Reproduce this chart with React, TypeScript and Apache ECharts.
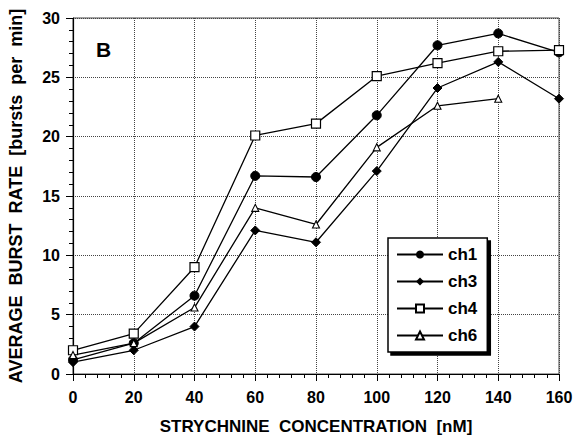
import React, { useEffect, useRef } from "react";
import * as echarts from "echarts";

const concentrations = [0, 20, 40, 60, 80, 100, 120, 140, 160];
const ch1 = [1.2, 2.6, 6.6, 16.7, 16.6, 21.8, 27.7, 28.7, 27.1];
const ch3 = [1.0, 2.0, 4.0, 12.1, 11.1, 17.1, 24.1, 26.3, 23.2];
const ch4 = [2.0, 3.4, 9.0, 20.1, 21.1, 25.1, 26.2, 27.2, 27.3];
const ch6 = [1.6, 2.6, 5.6, 14.0, 12.6, 19.1, 22.6, 23.2];
const yTicks = [0, 5, 10, 15, 20, 25, 30];

const FONT = "Liberation Sans";

export default function App() {
  const ref = useRef<HTMLDivElement>(null);
  useEffect(() => {
    if (!ref.current) return;
    const chart = echarts.init(ref.current, null, { renderer: "svg" });
    const pairs = (vals: number[]) => vals.map((v, i) => [concentrations[i], v]);
    const lineStyle = { color: "#000", width: 1.3 };
    chart.setOption({
      animation: false,
      backgroundColor: "#fff",
      grid: {
        left: 73,
        right: 16,
        top: 18,
        bottom: 62,
        outerBoundsMode: "none",
        containLabel: false,
        show: true,
        borderColor: "#444",
        borderWidth: 1,
        backgroundColor: "transparent",
      },
      graphic: [
        {
          type: "text",
          left: 96,
          top: 39,
          style: { text: "B", font: `bold 21px ${FONT}`, fill: "#000" },
        },
      ],
      legend: {
        orient: "vertical",
        left: 388,
        top: 238,
        itemWidth: 46,
        itemHeight: 10,
        itemGap: 10,
        padding: [8, 10, 8, 8],
        backgroundColor: "#fff",
        borderColor: "#000",
        borderWidth: 1.5,
        shadowColor: "#000",
        shadowBlur: 0,
        shadowOffsetX: 3,
        shadowOffsetY: 3,
        textStyle: { fontFamily: FONT, fontWeight: "bold", fontSize: 17, color: "#000" },
        data: ["ch1", "ch3", "ch4", "ch6"],
      },
      xAxis: {
        type: "value",
        min: 0,
        max: 160,
        interval: 20,
        name: "STRYCHNINE  CONCENTRATION  [nM]",
        nameLocation: "middle",
        nameGap: 44,
        nameTextStyle: { fontFamily: FONT, fontWeight: "bold", fontSize: 17, color: "#000" },
        axisLine: { onZero: false, lineStyle: { color: "#000", width: 1.2 } },
        axisTick: { show: true, length: 7, lineStyle: { color: "#000" } },
        minorTick: { show: true, splitNumber: 5, length: 4, lineStyle: { color: "#000" } },
        axisLabel: { fontFamily: FONT, fontWeight: "bold", fontSize: 16, color: "#000", margin: 15 },
        splitLine: { show: true, lineStyle: { type: "dotted", color: "#444", width: 1 } },
      },
      yAxis: {
        type: "value",
        min: 0,
        max: 30,
        interval: 5,
        name: "AVERAGE  BURST  RATE  [bursts  per  min]",
        nameLocation: "middle",
        nameGap: 48,
        nameTextStyle: { fontFamily: FONT, fontWeight: "bold", fontSize: 18, color: "#000" },
        axisLine: { lineStyle: { color: "#000", width: 1.2 } },
        axisTick: { show: true, length: 7, lineStyle: { color: "#000" } },
        minorTick: { show: true, splitNumber: 5, length: 4, lineStyle: { color: "#000" } },
        axisLabel: {
          fontFamily: FONT,
          fontWeight: "bold",
          fontSize: 16,
          color: "#000",
          margin: 13,
          formatter: (v: number) => (yTicks.includes(v) ? String(v) : ""),
        },
        splitLine: { show: true, lineStyle: { type: "dotted", color: "#444", width: 1 } },
      },
      series: [
        {
          name: "ch1",
          type: "line",
          data: pairs(ch1),
          symbol: "circle",
          symbolSize: 9,
          itemStyle: { color: "#000", borderColor: "#000" },
          lineStyle,
          z: 4,
        },
        {
          name: "ch3",
          type: "line",
          data: pairs(ch3),
          symbol: "diamond",
          symbolSize: 9,
          itemStyle: { color: "#000", borderColor: "#000" },
          lineStyle,
          z: 3,
        },
        {
          name: "ch4",
          type: "line",
          data: pairs(ch4),
          symbol: "rect",
          symbolSize: 9,
          itemStyle: { color: "#fff", borderColor: "#000", borderWidth: 1.2 },
          lineStyle,
          z: 5,
        },
        {
          name: "ch6",
          type: "line",
          data: pairs(ch6),
          symbol: "triangle",
          symbolSize: 7,
          itemStyle: { color: "#fff", borderColor: "#000", borderWidth: 1.1 },
          lineStyle,
          z: 5,
        },
      ],
    });
    return () => chart.dispose();
  }, []);
  return <div ref={ref} style={{ width: 575, height: 436, position: "absolute", left: 0, top: 0 }} />;
}
